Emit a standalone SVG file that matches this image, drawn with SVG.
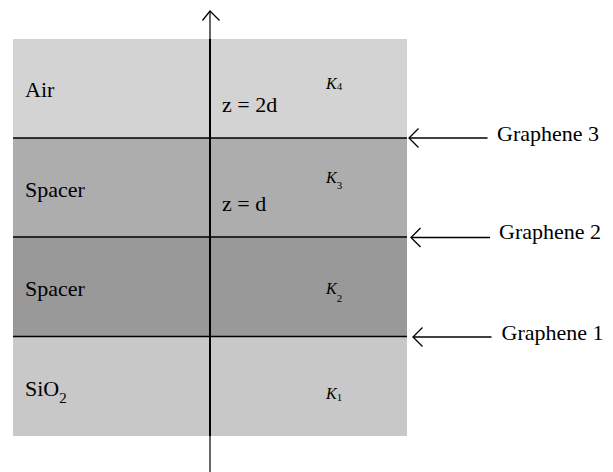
<svg xmlns="http://www.w3.org/2000/svg" width="613" height="472" viewBox="0 0 613 472">
<style>
text{font-family:"Liberation Serif","Times New Roman",serif;fill:#000}
.lbl{font-size:22px}
.k{font-size:16px;font-style:italic}
.sub{font-size:11px;font-style:normal}
.ln{stroke:#000;stroke-width:1.5;fill:none}
.ar{stroke:#000;stroke-width:1.3;fill:none}
</style>
<g id="air"><rect x="13" y="39" width="394" height="99" fill="#d3d3d3"/><text class="lbl" x="25" y="97">Air</text><text class="k" x="326" y="89">K<tspan class="sub" dy="1">4</tspan></text><text class="lbl" x="222" y="112">z = 2d</text></g>
<g id="spacer2"><rect x="13" y="138" width="394" height="99" fill="#adadad"/><text class="lbl" x="25" y="196.5">Spacer</text><text class="k" x="326" y="182.5">K<tspan class="sub" dy="6.5">3</tspan></text><text class="lbl" x="222" y="211">z = d</text></g>
<g id="spacer1"><rect x="13" y="237" width="394" height="99" fill="#999999"/><text class="lbl" x="25" y="295.5">Spacer</text><text class="k" x="326" y="294">K<tspan class="sub" dy="7.5">2</tspan></text></g>
<g id="sio2"><rect x="13" y="336" width="394" height="100" fill="#c8c8c8"/><text class="lbl" x="25" y="395.5">SiO<tspan font-size="15" dy="7">2</tspan></text><text class="k" x="326" y="399">K<tspan class="sub" dy="2">1</tspan></text></g>
<g id="connectors">
<line class="ln" x1="13" y1="138" x2="407" y2="138"/>
<line class="ln" x1="13" y1="237" x2="407" y2="237"/>
<line class="ln" x1="13" y1="336.5" x2="407" y2="336.5"/>
<line x1="210" y1="39" x2="210" y2="436" stroke="#000" stroke-width="2"/>
<line x1="210" y1="11" x2="210" y2="472" stroke="#000" stroke-width="1.2"/>
<polyline class="ar" points="202.5,20.5 210,11 219.5,20.5"/>
<line class="ar" x1="409" y1="138" x2="487.5" y2="138"/><polyline class="ar" points="418.5,128.5 409,138 418.5,147.5"/>
<line class="ar" x1="411" y1="237.5" x2="490" y2="237.5"/><polyline class="ar" points="420.5,228 411,237.5 420.5,247"/>
<line class="ar" x1="413" y1="337" x2="491.5" y2="337"/><polyline class="ar" points="422.5,327.5 413,337 422.5,346.5"/>
</g>
<g id="graphene3"><text class="lbl" x="497" y="141">Graphene 3</text></g>
<g id="graphene2"><text class="lbl" x="499" y="238.5">Graphene 2</text></g>
<g id="graphene1"><text class="lbl" x="501.5" y="340">Graphene 1</text></g>
</svg>
